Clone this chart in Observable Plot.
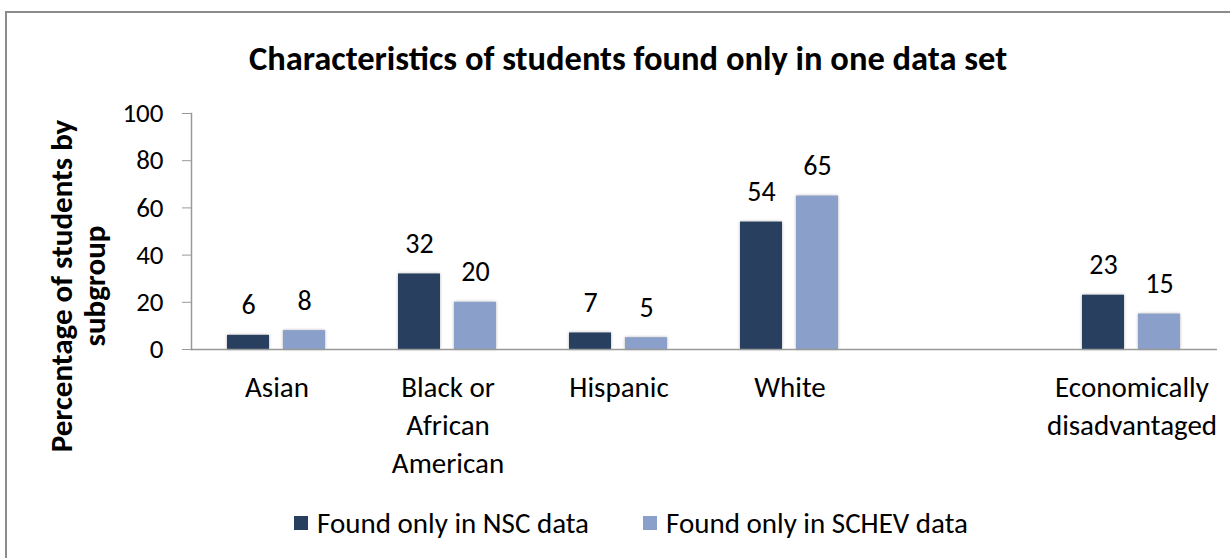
<!DOCTYPE html>
<html>
<head>
<meta charset="utf-8">
<script src="https://cdn.jsdelivr.net/npm/d3@7"></script>
<script src="https://cdn.jsdelivr.net/npm/@observablehq/plot@0.6"></script>
<style>
  html, body { margin: 0; padding: 0; background: #fff; }
  body { width: 1230px; height: 558px; position: relative; overflow: hidden; font-family: Carlito, Calibri, Lato, "Open Sans", sans-serif; color: #000; }
  #border { position: absolute; left: 5px; top: 11px; width: 1240px; height: 560px; border: 2px solid #8c8c8c; box-sizing: border-box; }
  #title { position: absolute; left: 0; width: 1256px; top: 36px; text-align: center; font-weight: bold; font-size: 34.5px; line-height: 44px; }
  #ylabel { position: absolute; left: 78px; top: 286px; width: 400px; transform: translate(-50%, -50%) rotate(-90deg); text-align: center; font-weight: bold; font-size: 31px; line-height: 33px; white-space: nowrap; }
  #chart { position: absolute; left: 0; top: 0; }
  #legend { position: absolute; top: 504px; left: 0; width: 1262px; display: flex; justify-content: center; gap: 54px; font-size: 29px; line-height: 38px; }
  .item { display: flex; align-items: center; gap: 9px; }
  .sw { width: 14px; height: 14px; display: inline-block; }
  svg rect { filter: drop-shadow(0 0 1.5px rgba(0,0,0,0.3)); }
</style>
</head>
<body>
<div id="border"></div>
<div id="title"></div>
<div id="chart"></div>
<div id="ylabel"></div>
<div id="legend"></div>
<script>
const titleText = "Characteristics of students found only in one data set";
const yLabelLines = ["Percentage of students by", "subgroup"];
const categories = ["Asian", "Black or\nAfrican\nAmerican", "Hispanic", "White", " ", "Economically\ndisadvantaged"];
const series = ["Found only in NSC data", "Found only in SCHEV data"];
const colors = ["#283F60", "#8A9FC9"];
const nscValues = [6, 32, 7, 54, null, 23];
const schevValues = [8, 20, 5, 65, null, 15];
const yTicks = [0, 20, 40, 60, 80, 100];

const data = [];
categories.forEach((c, i) => {
  if (nscValues[i] != null) data.push({cat: c, series: series[0], value: nscValues[i]});
  if (schevValues[i] != null) data.push({cat: c, series: series[1], value: schevValues[i]});
});
const catRows = categories.map(c => ({cat: c}));

document.getElementById("title").textContent = titleText;
document.getElementById("ylabel").innerHTML = yLabelLines.join("<br>");

const chart = Plot.plot({
  width: 1230,
  height: 490,
  marginLeft: 190,
  marginRight: 12,
  marginTop: 113,
  marginBottom: 141,
  style: {fontFamily: "Carlito, Calibri, Lato, 'Open Sans', sans-serif", color: "#000", background: "transparent"},
  fx: {domain: categories, padding: 0, label: null},
  x: {domain: series, paddingInner: 0.246, paddingOuter: 0.626, axis: null},
  y: {domain: [0, 100], label: null},
  color: {domain: series, range: colors},
  marks: [
    Plot.frame({anchor: "left", stroke: "#999", strokeWidth: 1.5, facetAnchor: "left"}),
    Plot.axisY({ticks: yTicks, tickSize: 9, tickPadding: 19, stroke: "#999", fontSize: 27, label: null, facetAnchor: "left"}),
    Plot.axisFx({anchor: "bottom", tickSize: 0, tickPadding: 21, fontSize: 29, lineHeight: 1.3, lineAnchor: "top", label: null}),
    Plot.barY(data, {fx: "cat", x: "series", y: "value", fill: "series"}),
    Plot.ruleY(catRows, {fx: "cat", y: 0, stroke: "#999", strokeWidth: 1.5}),
    Plot.text(data, {fx: "cat", x: "series", y: "value", text: d => String(d.value), dy: -21, lineAnchor: "bottom", fontSize: 28})
  ]
});
document.getElementById("chart").appendChild(chart);

const legend = document.getElementById("legend");
series.forEach((s, i) => {
  const item = document.createElement("div");
  item.className = "item";
  const sw = document.createElement("span");
  sw.className = "sw";
  sw.style.background = colors[i];
  const t = document.createElement("span");
  t.textContent = s;
  item.appendChild(sw);
  item.appendChild(t);
  legend.appendChild(item);
});
</script>
</body>
</html>
